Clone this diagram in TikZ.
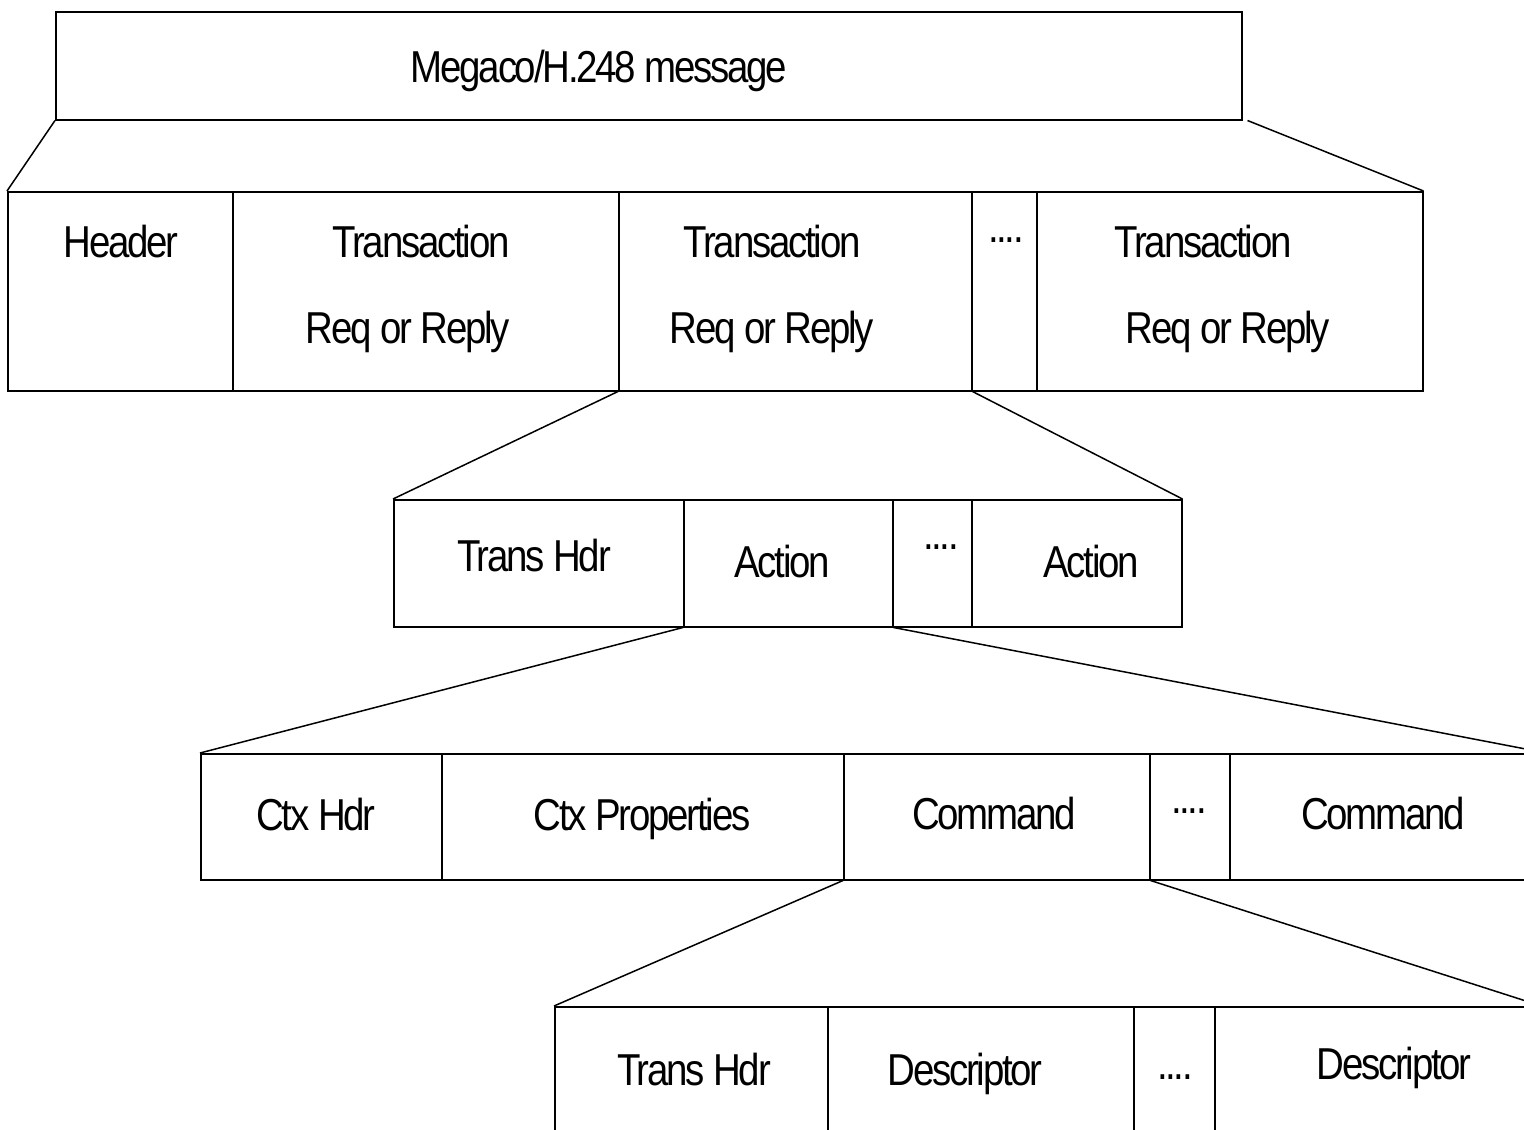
\documentclass[tikz,border=0pt]{standalone}
\usepackage{fontspec}
\newfontfamily\diagfont{Liberation Sans}[FakeStretch=0.86,LetterSpace=-5]
\begin{document}
\begin{tikzpicture}[x=1pt,y=-1pt,
  cell/.style={draw, line width=1.5pt, inner sep=0pt, anchor=north west},
  lbl/.style={anchor=base, inner sep=0pt, font={\diagfont\fontsize{44.7}{50}\selectfont}},
  conn/.style={line width=1.5pt}]
\useasboundingbox (0,0) rectangle (1524,1130);
\clip (0,0) rectangle (1524,1130);
% top
\node[cell, minimum width=1186pt, minimum height=108pt] (msg) at (55,11) {};
\node[lbl] (tmsg) at (599,82) {Megaco/H.248 message};
% row 2
\node[cell, minimum width=225pt, minimum height=199pt] (hdr) at (7,191) {};
\node[cell, minimum width=386pt, minimum height=199pt] (tr1) at (232,191) {};
\node[cell, minimum width=353pt, minimum height=199pt] (tr2) at (618,191) {};
\node[cell, minimum width=65pt, minimum height=199pt] (dt1) at (971,191) {};
\node[cell, minimum width=386pt, minimum height=199pt] (tr3) at (1036,191) {};
\node[lbl] (thdr) at (121,257) {Header};
\node[lbl] (ttr1a) at (421,257) {Transaction};
\node[lbl] (ttr1b) at (408,343) {Req or Reply};
\node[lbl] (ttr2a) at (772,257) {Transaction};
\node[lbl] (ttr2b) at (772,343) {Req or Reply};
\node[lbl] (tdt1) at (1006,242) {....};
\node[lbl] (ttr3a) at (1203,257) {Transaction};
\node[lbl] (ttr3b) at (1228,343) {Req or Reply};
% row 3
\node[cell, minimum width=290pt, minimum height=127pt] (th) at (393,499) {};
\node[cell, minimum width=209pt, minimum height=127pt] (ac1) at (683,499) {};
\node[cell, minimum width=79pt, minimum height=127pt] (dt2) at (892,499) {};
\node[cell, minimum width=210pt, minimum height=127pt] (ac2) at (971,499) {};
\node[lbl] (tth) at (534,571) {Trans Hdr};
\node[lbl] (tac1) at (782,577) {Action};
\node[lbl] (tdt2) at (941,549) {....};
\node[lbl] (tac2) at (1091,577) {Action};
% row 4
\node[cell, minimum width=241pt, minimum height=126pt] (ch) at (200,753) {};
\node[cell, minimum width=402pt, minimum height=126pt] (cp) at (441,753) {};
\node[cell, minimum width=306pt, minimum height=126pt] (cm1) at (843,753) {};
\node[cell, minimum width=80pt, minimum height=126pt] (dt3) at (1149,753) {};
\node[cell, minimum width=316pt, minimum height=126pt] (cm2) at (1229,753) {};
\node[lbl] (tch) at (316,830) {Ctx Hdr};
\node[lbl] (tcp) at (642,830) {Ctx Properties};
\node[lbl] (tcm1) at (994,829) {Command};
\node[lbl] (tdt3) at (1189,813) {....};
\node[lbl] (tcm2) at (1383,829) {Command};
% row 5
\node[cell, minimum width=273pt, minimum height=150pt] (th2) at (554,1006) {};
\node[cell, minimum width=306pt, minimum height=150pt] (ds1) at (827,1006) {};
\node[cell, minimum width=81pt, minimum height=150pt] (dt4) at (1133,1006) {};
\node[cell, minimum width=326pt, minimum height=150pt] (ds2) at (1214,1006) {};
\node[lbl] (tth2) at (694,1085) {Trans Hdr};
\node[lbl] (tds1) at (965,1085) {Descriptor};
\node[lbl] (tdt4) at (1175,1079) {....};
\node[lbl] (tds2) at (1394,1079) {Descriptor};
% connectors
\draw[conn] (msg.south west) -- (hdr.north west);
\draw[conn] ([xshift=5pt]msg.south east) -- (tr3.north east);
\draw[conn] (tr2.south west) -- (th.north west);
\draw[conn] (tr2.south east) -- (ac2.north east);
\draw[conn] (ac1.south west) -- (ch.north west);
\draw[conn] (ac1.south east) -- (cm2.north east);
\draw[conn] (cm1.south west) -- (th2.north west);
\draw[conn] (cm1.south east) -- (ds2.north east);
\end{tikzpicture}
\end{document}
